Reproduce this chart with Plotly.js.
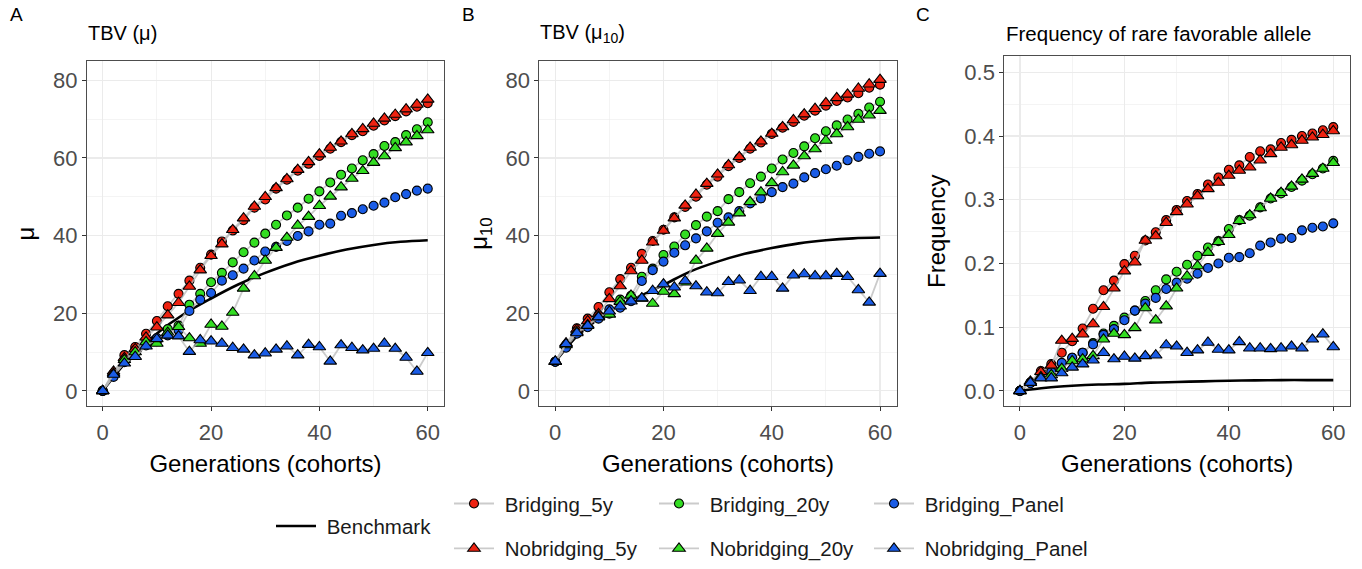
<!DOCTYPE html>
<html><head><meta charset="utf-8">
<script src="https://cdn.plot.ly/plotly-3.0.1.min.js"></script>
<style>html,body{margin:0;padding:0;background:#fff}#chart{width:1362px;height:569px}</style>
</head><body><div id="chart"></div>
<script>
const generations = [0,2,4,6,8,10,12,14,16,18,20,22,24,26,28,30,32,34,36,38,40,42,44,46,48,50,52,54,56,58,60];
const benchGenerations = [0,5,10,15,20,25,30,35,40,45,50,55,60];
const seriesNames = ["Bridging_5y","Bridging_20y","Bridging_Panel","Nobridging_5y","Nobridging_20y","Nobridging_Panel"];

// Panel A: TBV (mu)
const A_Bridging_5y = [0,4.4,9.2,11.3,14.7,18.0,21.8,25.0,28.4,31.7,35.1,38.5,41.3,44.0,47.2,49.3,52.1,54.4,56.7,58.5,60.5,62.4,64.1,65.9,66.9,68.3,69.7,70.8,72.0,73.2,74.1];
const A_Bridging_20y = [0,4.0,8.0,10.5,12.6,12.8,15.9,16.8,22.2,25.0,28.0,30.4,33.1,35.7,38.2,40.5,42.8,45.2,47.2,49.5,51.4,53.7,55.7,57.3,59.4,61.0,63.1,64.1,65.9,67.4,69.2];
const A_Bridging_Panel = [0,3.6,7.4,9.8,11.7,13.6,14.3,15.6,20.6,23.5,25.2,28.4,29.8,31.5,33.6,35.9,37.1,38.6,39.9,41.1,42.8,43.1,45.1,45.8,46.8,47.7,48.5,49.9,50.7,51.6,52.1];
const A_Nobridging_5y = [0,5.0,8.5,10.8,13.8,16.4,19.5,22.7,26.9,31.1,34.8,37.8,41.5,44.5,47.5,50.0,52.3,54.6,57.0,59.0,61.0,62.7,64.3,66.2,67.5,68.9,70.2,71.2,72.6,73.8,75.1];
const A_Nobridging_20y = [0,4.5,8.0,10.0,12.6,12.2,15.0,16.5,13.6,12.2,17.1,16.6,20.2,26.4,29.6,33.6,36.9,39.5,42.6,44.9,47.7,50.1,52.5,54.7,56.7,58.8,60.5,62.6,64.1,65.7,67.2];
const A_Nobridging_Panel = [0,4.2,7.1,8.8,11.5,13.4,14.3,14.1,10.1,13.1,12.8,12.2,11.1,10.7,9.2,9.7,10.7,11.5,9.2,11.9,11.3,7.6,11.8,11.1,10.5,10.9,12.2,10.9,8.6,5.0,9.8];
const A_Benchmark = [0,8.5,14.8,19.8,23.8,27.4,30.4,32.9,34.8,36.4,37.6,38.4,38.8];

// Panel B: TBV (mu10)
const B_Bridging_5y = [7.5,11.8,16.1,18.6,21.6,25.4,28.8,31.7,35.3,38.6,41.5,44.7,47.4,50.0,53.1,55.2,57.9,60.0,62.4,64.0,66.2,67.8,69.3,70.9,72.2,73.5,74.7,75.6,76.7,78.1,78.9];
const B_Bridging_20y = [7.5,11.5,15.5,17.5,19.5,19.9,23.5,24.5,29.4,31.5,35.0,37.2,40.3,42.7,44.9,46.3,49.4,51.2,53.5,55.2,57.3,59.6,61.3,63.0,65.1,66.9,68.4,69.9,71.4,73.0,74.5];
const B_Bridging_Panel = [7.5,11.1,14.7,16.4,18.6,21.0,21.4,23.1,28.3,31.1,33.3,35.6,37.5,39.3,41.1,43.3,44.7,46.3,48.3,49.6,51.2,52.5,53.4,55.0,56.1,57.1,58.0,59.4,60.3,61.1,61.7];
const B_Nobridging_5y = [7.5,12.3,15.8,18.0,19.8,23.7,27.0,30.9,33.6,38.3,41.3,44.5,47.8,50.6,53.4,55.8,58.2,60.3,62.7,64.3,66.3,68.0,69.8,71.3,72.7,74.2,75.5,76.4,77.9,79.0,80.2];
const B_Nobridging_20y = [7.5,11.8,15.2,17.0,19.2,19.7,23.0,24.6,23.8,22.5,25.6,25.0,28.0,33.6,36.7,40.5,43.4,45.8,48.7,51.2,53.6,56.4,58.1,60.5,62.3,64.5,66.2,68.0,69.9,71.0,72.2];
const B_Nobridging_Panel = [7.6,12.1,14.9,16.8,19.0,20.5,21.8,23.1,23.9,25.8,27.5,26.7,28.3,27.0,25.4,25.2,28.1,28.5,25.8,29.4,29.4,26.4,29.8,30.1,29.6,29.6,30.2,29.4,26.0,22.8,30.2];
const B_Benchmark = [7.5,15.5,20.5,24.0,27.3,30.8,33.3,35.3,36.8,38.0,38.8,39.3,39.5];

// Panel C: frequency of rare favorable allele
const C_Bridging_5y = [0,0.013,0.031,0.042,0.060,0.078,0.098,0.129,0.158,0.173,0.199,0.212,0.236,0.249,0.268,0.284,0.298,0.309,0.324,0.335,0.347,0.354,0.367,0.376,0.379,0.389,0.394,0.400,0.404,0.409,0.414];
const C_Bridging_20y = [0,0.013,0.025,0.035,0.043,0.052,0.060,0.075,0.090,0.102,0.115,0.126,0.141,0.158,0.175,0.187,0.198,0.212,0.225,0.235,0.254,0.268,0.275,0.288,0.302,0.310,0.320,0.330,0.340,0.349,0.361];
const C_Bridging_Panel = [0,0.012,0.024,0.030,0.044,0.052,0.060,0.073,0.088,0.097,0.111,0.126,0.137,0.146,0.160,0.170,0.176,0.184,0.193,0.200,0.209,0.210,0.216,0.228,0.233,0.239,0.240,0.252,0.256,0.258,0.263];
const C_Nobridging_5y = [0,0.015,0.030,0.040,0.079,0.082,0.089,0.105,0.132,0.161,0.188,0.202,0.236,0.243,0.264,0.281,0.293,0.306,0.317,0.327,0.338,0.346,0.351,0.362,0.372,0.382,0.386,0.393,0.398,0.402,0.408];
const C_Nobridging_20y = [0,0.013,0.022,0.025,0.035,0.047,0.050,0.055,0.081,0.090,0.088,0.099,0.130,0.111,0.133,0.161,0.180,0.196,0.217,0.234,0.245,0.267,0.276,0.287,0.302,0.311,0.321,0.332,0.341,0.349,0.358];
const C_Nobridging_Panel = [0,0.013,0.020,0.020,0.028,0.037,0.042,0.048,0.060,0.050,0.054,0.051,0.055,0.056,0.072,0.070,0.060,0.064,0.076,0.065,0.064,0.077,0.067,0.067,0.066,0.067,0.070,0.067,0.081,0.089,0.069];
const C_Benchmark = [0,0.005,0.008,0.010,0.011,0.013,0.014,0.015,0.016,0.0165,0.017,0.017,0.017];

const panelTitles = ["TBV (\u03bc)", "TBV (\u03bc<sub>10</sub>)", "Frequency of rare favorable allele"];
const panelLetters = ["A","B","C"];
const yTitles = ["\u03bc", "\u03bc<sub>10</sub>", "Frequency"];
const xTitle = "Generations (cohorts)";
const benchName = "Benchmark";

const panels = [
  {series:[A_Bridging_5y,A_Bridging_20y,A_Bridging_Panel,A_Nobridging_5y,A_Nobridging_20y,A_Nobridging_Panel], bench:A_Benchmark, xa:'x', ya:'y'},
  {series:[B_Bridging_5y,B_Bridging_20y,B_Bridging_Panel,B_Nobridging_5y,B_Nobridging_20y,B_Nobridging_Panel], bench:B_Benchmark, xa:'x2', ya:'y2'},
  {series:[C_Bridging_5y,C_Bridging_20y,C_Bridging_Panel,C_Nobridging_5y,C_Nobridging_20y,C_Nobridging_Panel], bench:C_Benchmark, xa:'x3', ya:'y3'}
];

const colors = ['#EE2211','#33DD22','#1A5CE6','#EE2211','#33DD22','#1A5CE6'];
const symbols = ['circle','circle','circle','triangle-up','triangle-up','triangle-up'];
const sizes = [9,9,9,11,11,11];
// one legend box per entry so each can sit where the reference puts it
const legendIds = ['legend2','legend3','legend4','legend5','legend6','legend7'];
const pad = '\u00a0';

const traces = [];
panels.forEach((p, pi) => {
  traces.push({
    x: benchGenerations, y: p.bench, xaxis: p.xa, yaxis: p.ya,
    mode: 'lines', name: pad + benchName, legend: 'legend', legendgroup: 'bench',
    showlegend: pi === 0, line: {color: '#000', width: 2.6, shape: 'spline'},
    hoverinfo: 'skip'
  });
  p.series.forEach((s, si) => {
    traces.push({
      x: generations, y: s, xaxis: p.xa, yaxis: p.ya,
      mode: 'lines+markers', name: pad + seriesNames[si], legend: legendIds[si],
      legendgroup: seriesNames[si], showlegend: pi === 0,
      line: {color: 'rgba(185,185,185,0.75)', width: 1.8},
      marker: {color: colors[si], symbol: symbols[si], size: sizes[si], line: {color: '#000', width: 1.1}}
    });
  });
});

const FAM = 'Liberation Sans, Arial, sans-serif';
const tickFont = {family: FAM, size: 22, color: '#4D4D4D'};
const titleFont = {family: FAM, size: 24, color: '#000'};
const GRID = '#EBEBEB';

function xAxis(domain, range, anchor) {
  return {
    domain: domain, range: range, anchor: anchor, tick0: 0, dtick: 20,
    showgrid: true, gridcolor: GRID, gridwidth: 1.1,
    minor: {tick0: 0, dtick: 10, showgrid: true, gridcolor: GRID, gridwidth: 0.55, ticks: ''},
    showline: true, mirror: true, linecolor: '#4D4D4D', linewidth: 1,
    ticks: 'outside', ticklen: 4, tickcolor: '#333', tickwidth: 1, ticklabelstandoff: 2,
    tickfont: tickFont, zeroline: false, automargin: false,
    title: {text: xTitle, font: titleFont, standoff: 11}
  };
}
function yAxis(domain, range, anchor, d, fmt, title) {
  return {
    domain: domain, range: range, anchor: anchor, tick0: 0, dtick: d, tickformat: fmt,
    showgrid: true, gridcolor: GRID, gridwidth: 1.1,
    minor: {tick0: 0, dtick: d / 2, showgrid: true, gridcolor: GRID, gridwidth: 0.55, ticks: ''},
    showline: true, mirror: true, linecolor: '#4D4D4D', linewidth: 1,
    ticks: 'outside', ticklen: 4, tickcolor: '#333', tickwidth: 1,
    tickfont: tickFont, zeroline: false, automargin: false,
    title: {text: title, font: titleFont, standoff: 11}
  };
}

const W = 1362, H = 569;
const px = v => v / W;
const py = v => (H - v) / H;
const legFont = {family: FAM, size: 20.5, color: '#1a1a1a'};
function leg(xp, topPx) {
  return {x: px(xp), y: py(topPx), xanchor: 'left', yanchor: 'top', orientation: 'h',
          font: legFont, bgcolor: 'rgba(0,0,0,0)', itemwidth: 40};
}

const layout = {
  width: W, height: H, margin: {l: 0, r: 0, t: 0, b: 0},
  paper_bgcolor: '#fff', plot_bgcolor: '#fff',
  font: {family: FAM, color: '#000'},
  xaxis: xAxis([px(87), px(444)], [-2.9, 63.0], 'y'),
  yaxis: yAxis([py(416), py(62)], [-4.03, 85.1], 'x', 20, 'd', yTitles[0]),
  xaxis2: xAxis([px(539.3), px(896.7)], [-2.94, 63.08], 'y2'),
  yaxis2: yAxis([py(416), py(62)], [-4.03, 85.1], 'x2', 20, 'd', yTitles[1]),
  xaxis3: xAxis([px(1004.3), px(1350)], [-3.0, 63.2], 'y3'),
  yaxis3: yAxis([py(415.7), py(57.7)], [-0.024, 0.525], 'x3', 0.1, '.1f', yTitles[2]),
  showlegend: true,
  legend: leg(271, 518),
  legend2: leg(449, 495),
  legend3: leg(654, 495),
  legend4: leg(869, 495),
  legend5: leg(449, 541),
  legend6: leg(654, 541),
  legend7: leg(869, 541),
  annotations: [
    {text: panelLetters[0], x: px(8), y: py(15), xref: 'paper', yref: 'paper', xanchor: 'left', yanchor: 'middle', showarrow: false, font: {family: FAM, size: 19, color: '#000'}},
    {text: panelLetters[1], x: px(460), y: py(15), xref: 'paper', yref: 'paper', xanchor: 'left', yanchor: 'middle', showarrow: false, font: {family: FAM, size: 19, color: '#000'}},
    {text: panelLetters[2], x: px(914), y: py(15), xref: 'paper', yref: 'paper', xanchor: 'left', yanchor: 'middle', showarrow: false, font: {family: FAM, size: 19, color: '#000'}},
    {text: panelTitles[0], x: px(86), y: py(34), xref: 'paper', yref: 'paper', xanchor: 'left', yanchor: 'middle', showarrow: false, font: {family: FAM, size: 20, color: '#000'}},
    {text: panelTitles[1], x: px(538), y: py(34), xref: 'paper', yref: 'paper', xanchor: 'left', yanchor: 'middle', showarrow: false, font: {family: FAM, size: 20, color: '#000'}},
    {text: panelTitles[2], x: px(1004), y: py(34), xref: 'paper', yref: 'paper', xanchor: 'left', yanchor: 'middle', showarrow: false, font: {family: FAM, size: 20.5, color: '#000'}}
  ]
};

Plotly.newPlot('chart', traces, layout, {displayModeBar: false, staticPlot: true});
</script></body></html>
